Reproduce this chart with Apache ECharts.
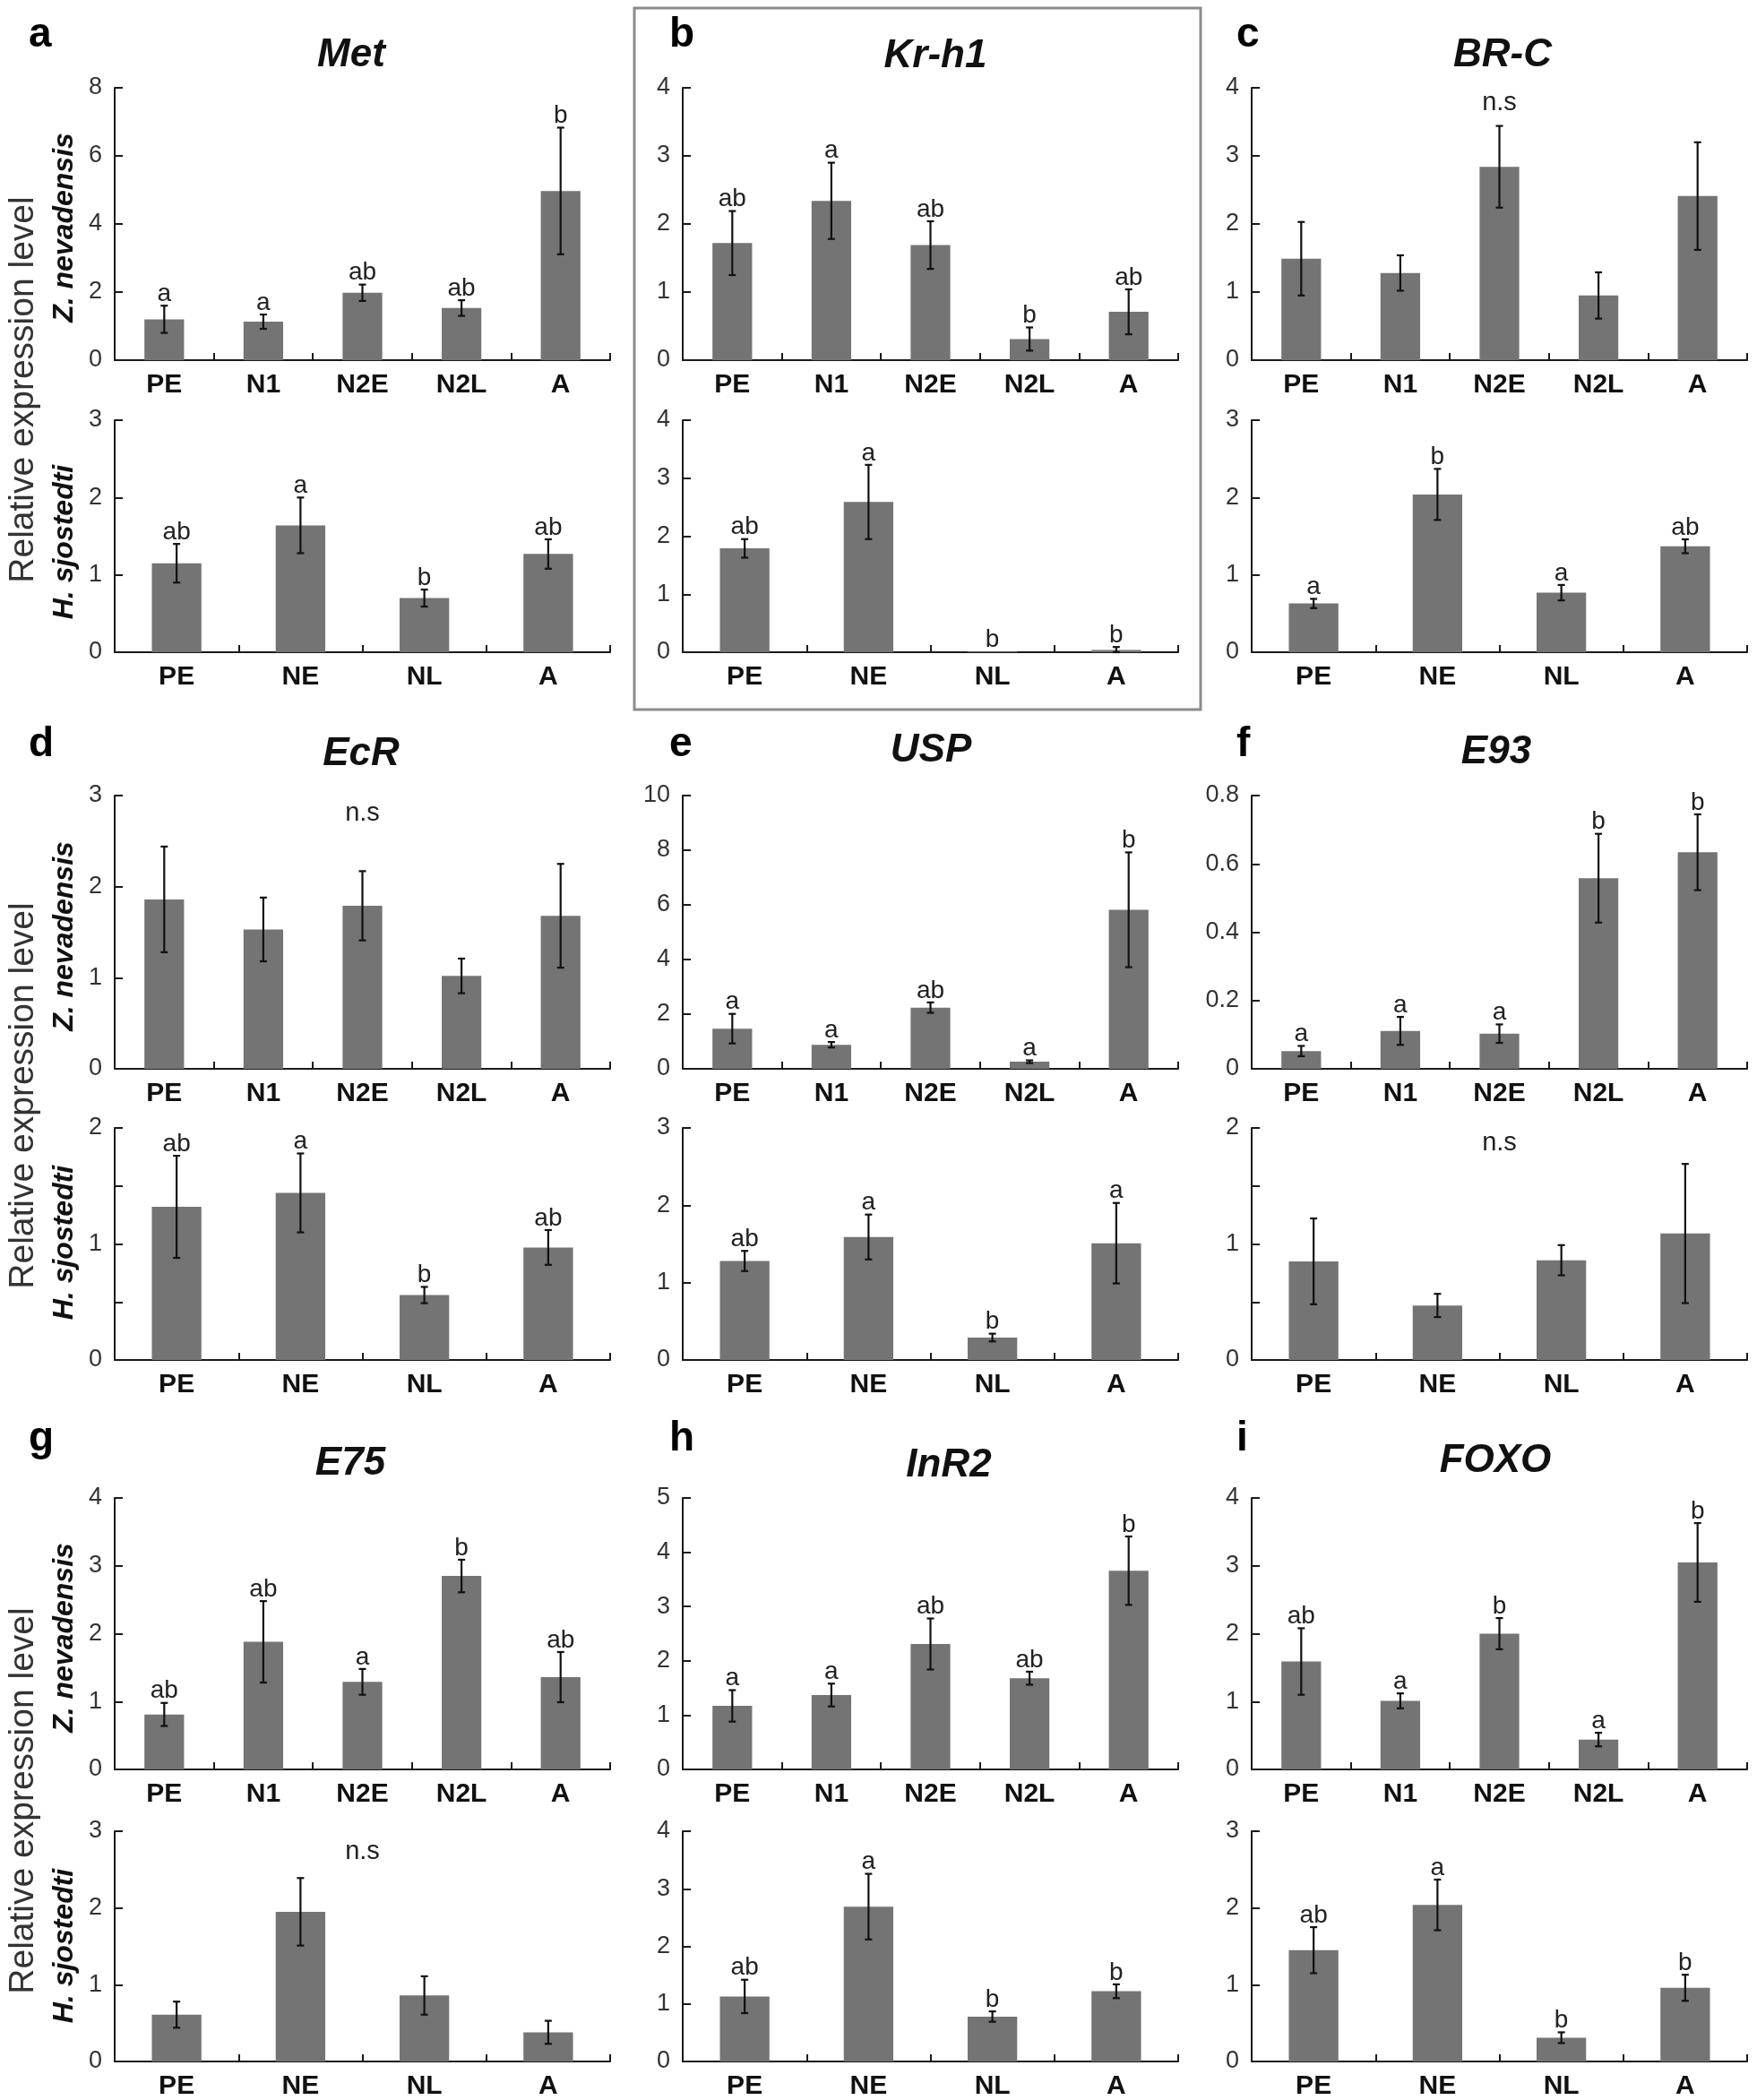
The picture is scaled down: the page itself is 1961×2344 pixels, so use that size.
<!DOCTYPE html>
<html><head><meta charset="utf-8">
<script src="https://cdn.jsdelivr.net/npm/echarts@6/dist/echarts.min.js"></script>
<style>html,body{margin:0;padding:0;background:#fff}#c{width:1961px;height:2344px}</style>
</head><body><div id="c"></div>
<script>
// ---------- DATA ----------
const catsZ = ['PE','N1','N2E','N2L','A'];   // Z. nevadensis stages
const catsH = ['PE','NE','NL','A'];          // H. sjostedti stages
const genes = ['Met','Kr-h1','BR-C','EcR','USP','E93','E75','InR2','FOXO'];
const panelLetters = ['a','b','c','d','e','f','g','h','i'];

// Met
const metZ = [1.20, 1.13, 1.98, 1.53, 4.97];
const metZerr = [0.40, 0.21, 0.24, 0.23, 1.86];
const metZsig = ['a','a','ab','ab','b'];
const metH = [1.15, 1.64, 0.70, 1.27];
const metHerr = [0.25, 0.36, 0.11, 0.19];
const metHsig = ['ab','a','b','ab'];
// Kr-h1
const krZ = [1.72, 2.34, 1.69, 0.31, 0.71];
const krZerr = [0.47, 0.56, 0.35, 0.17, 0.33];
const krZsig = ['ab','a','ab','b','ab'];
const krH = [1.79, 2.59, 0.01, 0.04];
const krHerr = [0.16, 0.64, 0, 0.05];
const krHsig = ['ab','a','b','b'];
// BR-C
const brZ = [1.49, 1.28, 2.84, 0.95, 2.41];
const brZerr = [0.54, 0.26, 0.60, 0.34, 0.79];
const brZsig = ['','','','',''];
const brH = [0.63, 2.04, 0.77, 1.37];
const brHerr = [0.06, 0.33, 0.10, 0.09];
const brHsig = ['a','b','a','ab'];
// EcR
const ecrZ = [1.86, 1.53, 1.79, 1.02, 1.68];
const ecrZerr = [0.58, 0.35, 0.38, 0.19, 0.57];
const ecrZsig = ['','','','',''];
const ecrH = [1.32, 1.44, 0.56, 0.97];
const ecrHerr = [0.44, 0.34, 0.07, 0.15];
const ecrHsig = ['ab','a','b','ab'];
// USP
const uspZ = [1.47, 0.88, 2.24, 0.26, 5.82];
const uspZerr = [0.54, 0.10, 0.19, 0.05, 2.10];
const uspZsig = ['a','a','ab','a','b'];
const uspH = [1.28, 1.59, 0.29, 1.51];
const uspHerr = [0.13, 0.29, 0.05, 0.52];
const uspHsig = ['ab','a','b','a'];
// E93
const e93Z = [0.052, 0.111, 0.103, 0.558, 0.634];
const e93Zerr = [0.015, 0.041, 0.027, 0.130, 0.111];
const e93Zsig = ['a','a','a','b','b'];
const e93H = [0.85, 0.47, 0.86, 1.09];
const e93Herr = [0.37, 0.10, 0.13, 0.60];
const e93Hsig = ['','','',''];
// E75
const e75Z = [0.81, 1.88, 1.29, 2.85, 1.36];
const e75Zerr = [0.17, 0.60, 0.19, 0.24, 0.37];
const e75Zsig = ['ab','ab','a','b','ab'];
const e75H = [0.61, 1.95, 0.86, 0.38];
const e75Herr = [0.17, 0.44, 0.25, 0.15];
const e75Hsig = ['','','',''];
// InR2
const inrZ = [1.17, 1.37, 2.31, 1.68, 3.66];
const inrZerr = [0.29, 0.21, 0.47, 0.12, 0.63];
const inrZsig = ['a','a','ab','ab','b'];
const inrH = [1.13, 2.69, 0.78, 1.22];
const inrHerr = [0.29, 0.57, 0.09, 0.12];
const inrHsig = ['ab','a','b','b'];
// FOXO
const foxZ = [1.59, 1.01, 2.00, 0.44, 3.05];
const foxZerr = [0.49, 0.11, 0.23, 0.10, 0.58];
const foxZsig = ['ab','a','b','a','b'];
const foxH = [1.45, 2.04, 0.31, 0.96];
const foxHerr = [0.30, 0.33, 0.07, 0.17];
const foxHsig = ['ab','a','b','b'];

// axis ranges / tick steps
const zMax  = [8, 4, 4, 3, 10, 0.8, 4, 5, 4];
const zStep = [2, 1, 1, 1, 2, 0.2, 1, 1, 1];
const hMax  = [3, 4, 3, 2, 3, 2, 3, 4, 3];
const hStep = [1, 1, 1, 0.5, 1, 0.5, 1, 1, 1];
// "n.s" annotation heights (value units), null = none
const nsZ = [null, null, 3.77, 2.80, null, null, null, null, null];
const nsH = [null, null, null, null, null, 1.87, 2.73, null, null];

const zMeans = [metZ, krZ, brZ, ecrZ, uspZ, e93Z, e75Z, inrZ, foxZ];
const zErrs  = [metZerr, krZerr, brZerr, ecrZerr, uspZerr, e93Zerr, e75Zerr, inrZerr, foxZerr];
const zSigs  = [metZsig, krZsig, brZsig, ecrZsig, uspZsig, e93Zsig, e75Zsig, inrZsig, foxZsig];
const hMeans = [metH, krH, brH, ecrH, uspH, e93H, e75H, inrH, foxH];
const hErrs  = [metHerr, krHerr, brHerr, ecrHerr, uspHerr, e93Herr, e75Herr, inrHerr, foxHerr];
const hSigs  = [metHsig, krHsig, brHsig, ecrHsig, uspHsig, e93Hsig, e75Hsig, inrHsig, foxHsig];

// ---------- LAYOUT ----------
const FONT = 'Liberation Sans, Arial, sans-serif';
const colLeft = [128, 762, 1397];
const gridW = 553;
const rowTopZ = [98, 888, 1672], rowHZ = [304, 305, 303];
const rowTopH = [469, 1259, 2044], rowHH = [259, 259, 259];
const titleX = [392, 1044, 1677, 403, 1039, 1670, 391, 1059, 1669];
const titleY = [62, 63, 62, 842, 838, 840, 1634, 1636, 1631];
const letterX = [32, 747, 1380];
const letterY = [39, 831, 1606];
const yTitleY = [435, 1223, 2010];
const zLabY = [254, 1045, 1828];
const hLabY = [605, 1387, 2172];

const grids = [], xAxes = [], yAxes = [], series = [];

function makeErr(sigs) {
  return function (params, api) {
    const i = api.value(0), m = api.value(1), e = api.value(2);
    const top = api.coord([i, m + e]);
    const bot = api.coord([i, Math.max(0, m - e)]);
    const st = { stroke: '#111', lineWidth: 2.2 };
    const ch = [];
    if (e > 0) {
      ch.push({ type: 'line', shape: { x1: top[0], y1: top[1], x2: bot[0], y2: bot[1] }, style: st });
      ch.push({ type: 'line', shape: { x1: top[0] - 4, y1: top[1], x2: top[0] + 4, y2: top[1] }, style: st });
      ch.push({ type: 'line', shape: { x1: bot[0] - 4, y1: bot[1], x2: bot[0] + 4, y2: bot[1] }, style: st });
    }
    const s = sigs[params.dataIndex];
    if (s) {
      ch.push({ type: 'text', x: top[0], y: top[1] + 1,
        style: { text: s, font: '28px ' + FONT, fill: '#222',
          textAlign: 'center', textVerticalAlign: 'bottom', align: 'center', verticalAlign: 'bottom' } });
    }
    return { type: 'group', children: ch };
  };
}
function nsRender(params, api) {
  const cs = params.coordSys;
  const y = api.coord([0, api.value(1)])[1];
  return { type: 'text', x: cs.x + cs.width / 2, y: y,
    style: { text: 'n.s', font: '29px ' + FONT, fill: '#222',
      textAlign: 'center', textVerticalAlign: 'middle', align: 'center', verticalAlign: 'middle' } };
}

function addPlot(idx, left, top, h, cats, means, errs, sigs, max, step, ns) {
  grids.push({ left: left, top: top, width: gridW, height: h, containLabel: false });
  xAxes.push({
    type: 'category', gridIndex: idx, data: cats, boundaryGap: true,
    axisLine: { lineStyle: { color: '#1a1a1a', width: 2 } },
    axisTick: { show: true, inside: true, length: 8, lineStyle: { color: '#1a1a1a', width: 2 } },
    axisLabel: { color: '#111', fontWeight: 'bold', fontSize: 30, fontFamily: FONT, margin: 13, interval: 0 },
    splitLine: { show: false }
  });
  yAxes.push({
    type: 'value', gridIndex: idx, min: 0, max: max, interval: step,
    axisLine: { show: true, lineStyle: { color: '#1a1a1a', width: 2 } },
    axisTick: { show: true, inside: true, length: 9, lineStyle: { color: '#1a1a1a', width: 2 } },
    axisLabel: { color: '#333', fontSize: 27, fontFamily: FONT, margin: 14,
      formatter: function (v) { return (step === 0.5 && !Number.isInteger(v)) ? '' : (Math.round(v * 100) / 100).toString(); } },
    splitLine: { show: false }
  });
  series.push({ type: 'bar', xAxisIndex: idx, yAxisIndex: idx, data: means, barWidth: '40%',
    itemStyle: { color: '#747474' }, silent: true });
  series.push({ type: 'custom', xAxisIndex: idx, yAxisIndex: idx,
    data: means.map((m, i) => [i, m, errs[i]]), renderItem: makeErr(sigs), silent: true, z: 5 });
  if (ns !== null) {
    series.push({ type: 'custom', xAxisIndex: idx, yAxisIndex: idx, data: [[0, ns]], renderItem: nsRender, silent: true, z: 5 });
  }
}

const graphics = [];
for (let g = 0; g < 9; g++) {
  const col = g % 3, row = Math.floor(g / 3);
  addPlot(2 * g, colLeft[col], rowTopZ[row], rowHZ[row], catsZ, zMeans[g], zErrs[g], zSigs[g], zMax[g], zStep[g], nsZ[g]);
  addPlot(2 * g + 1, colLeft[col], rowTopH[row], rowHH[row], catsH, hMeans[g], hErrs[g], hSigs[g], hMax[g], hStep[g], nsH[g]);
  graphics.push({ type: 'text', x: titleX[g], y: titleY[g],
    style: { text: genes[g], font: 'italic bold 44px ' + FONT, fill: '#111',
      textAlign: 'center', textVerticalAlign: 'middle', align: 'center', verticalAlign: 'middle' } });
  graphics.push({ type: 'text', x: letterX[col], y: letterY[row],
    style: { text: panelLetters[g], font: 'bold 46px ' + FONT, fill: '#000',
      textAlign: 'left', textVerticalAlign: 'middle', align: 'left', verticalAlign: 'middle' } });
}
for (let r = 0; r < 3; r++) {
  graphics.push({ type: 'text', x: 26, y: yTitleY[r], rotation: Math.PI / 2,
    style: { text: 'Relative expression level', font: '39px ' + FONT, fill: '#333',
      textAlign: 'center', textVerticalAlign: 'middle', align: 'center', verticalAlign: 'middle' } });
  graphics.push({ type: 'text', x: 72, y: zLabY[r], rotation: Math.PI / 2,
    style: { text: 'Z. nevadensis', font: 'italic bold 32px ' + FONT, fill: '#111',
      textAlign: 'center', textVerticalAlign: 'middle', align: 'center', verticalAlign: 'middle' } });
  graphics.push({ type: 'text', x: 72, y: hLabY[r], rotation: Math.PI / 2,
    style: { text: 'H. sjostedti', font: 'italic bold 32px ' + FONT, fill: '#111',
      textAlign: 'center', textVerticalAlign: 'middle', align: 'center', verticalAlign: 'middle' } });
}
graphics.push({ type: 'rect', shape: { x: 708, y: 9, width: 632, height: 783 },
  style: { fill: 'none', stroke: '#8c8c8c', lineWidth: 3 } });

const chart = echarts.init(document.getElementById('c'), null, { renderer: 'canvas' });
chart.setOption({
  animation: false,
  backgroundColor: '#ffffff',
  grid: grids, xAxis: xAxes, yAxis: yAxes, series: series,
  graphic: graphics
});
</script></body></html>
